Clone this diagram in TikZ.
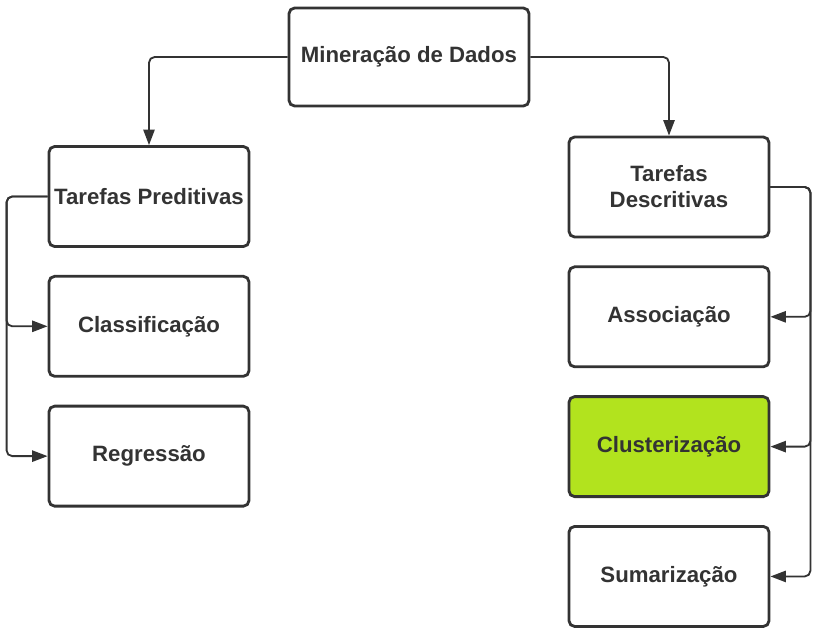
\documentclass[tikz,border=0pt]{standalone}
\usepackage{fontspec}
\setmainfont{Liberation Sans}
\usepackage{tikz}
\usetikzlibrary{arrows.meta, positioning}
\definecolor{cinzaescuro}{RGB}{51,51,51}
\definecolor{verdeclus}{RGB}{178,227,30}

\begin{document}
\begin{tikzpicture}[
      caixa/.style={draw=cinzaescuro, line width=2pt, rounded corners=4pt,
                    minimum width=5cm, minimum height=2.5cm, fill=white,
                    text=cinzaescuro, align=center,
                    font=\fontsize{15.8}{18.5}\selectfont\bfseries},
      seta/.style={draw=cinzaescuro, line width=1.3pt, rounded corners=4pt,
                   -{Triangle[length=11pt,width=8pt]}},
      >=Stealth]
    \useasboundingbox (0,0) rectangle (20.55,-15.925);
    \node[caixa, minimum width=6cm, minimum height=2.45cm] (mineracao) at (10.225,-1.425)
          {Mineração de Dados};
    % lado preditivo
    \node[caixa] (preditivas) at (3.725,-4.9125) {Tarefas Preditivas};
    \node[caixa, below=0.675cm of preditivas] (classificacao) {Classificação};
    \node[caixa, below=0.675cm of classificacao] (regressao) {Regressão};
    % lado descritivo
    \node[caixa] (descritivas) at (16.725,-4.675) {Tarefas\\Descritivas};
    \node[caixa, below=0.675cm of descritivas] (associacao) {Associação};
    \node[caixa, below=0.675cm of associacao, fill=verdeclus] (clusterizacao) {Clusterização};
    \node[caixa, below=0.675cm of clusterizacao] (sumarizacao) {Sumarização};

    \draw[seta] (mineracao.west) -| (preditivas.north);
    \draw[seta] (mineracao.east) -| (descritivas.north);
    \draw[seta] (preditivas.west) -- ++(-1.025,0) |- (classificacao.west);
    \draw[seta] (preditivas.west) -- ++(-1.025,0) |- (regressao.west);
    \draw[seta] (descritivas.east) -- ++(1.0,0) |- (associacao.east);
    \draw[seta] (descritivas.east) -- ++(1.0,0) |- (clusterizacao.east);
    \draw[seta] (descritivas.east) -- ++(1.0,0) |- (sumarizacao.east);
  \end{tikzpicture}
\end{document}
